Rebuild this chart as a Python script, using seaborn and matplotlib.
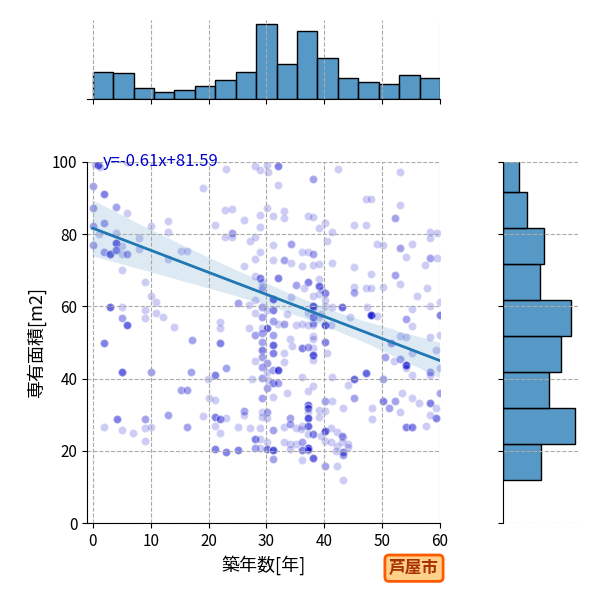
import numpy as np
import matplotlib
matplotlib.use("Agg")
import matplotlib.pyplot as plt
import seaborn as sns

# 築年数[年], 専有面積[m2], 重なっている件数 (グラフ範囲内の物件)
age = [
    0.9, 0.3, 1.3, 0, 2, 0, 2, 0, 1, 0, 2, 2.9, 2.9, 2, 2,
    4, 5.9, 4, 4, 4, 5.1, 5.1, 5.9, 5.1, 5.9, 5.1, 5.1, 5.9, 4.1, 5.1, 5.1, 6.9,
    8, 8, 9, 10, 9, 9, 10.1, 9, 9, 10, 10.1, 9,
    13, 13, 13, 10.9, 10.9, 12.1, 14, 13,
    15.2, 16.2, 15.2, 16.2, 17, 17.1, 16.2,
    19.1, 19.1, 19.9, 21.1, 20, 21.1, 21.1, 21.1, 21.1, 21.1,
    23.1, 22.9, 24.1, 24.1, 24.1, 22.9, 22, 22, 22, 23.1, 22, 23.1, 22, 23.1,
    26.1, 27.1, 28.1, 28.1, 26.1, 28.1, 28, 25.1, 27, 28, 28, 27, 28, 26.2, 26.2,
    25.1, 25.1, 27.1, 28.1, 28.1, 28.1, 27.5,
    28.9, 30.1, 30.2, 28.9, 28.9, 30.1, 31.2, 31.2, 28.9, 31.2,
    28.9, 29.2, 29.2, 29.2, 31.2,
    29.2, 31.2, 30.1, 29.2, 30.1, 29.2, 31.2, 29.2, 31.2,
    29.2, 31.2, 29.2, 31.2, 29.2, 30.1, 29.2, 31.2, 30.1,
    29.2, 31.2, 30.1, 29.2, 31.2, 30.2,
    29.2, 30.1, 30.1, 29.2, 28.9, 31.2, 28.9, 30.1,
    30.1, 31.2, 31.2, 28.9,
    32, 32, 33.1, 33.1, 34.2, 33.1, 34.2, 32, 34.2, 35.2, 32, 33.1, 35.2, 33.5, 34.1,
    32, 33.1, 33.1, 34.5, 32, 33.5, 33.1, 34.1, 34.1, 35.1, 33.1, 34.1, 35.1, 34,
    38.1, 37.2, 38.1, 36.2, 37.2, 38.1, 36.2, 38.1, 37.2, 36.5, 38.1, 38.1, 37.2, 38.1,
    38.1, 38.1, 37.2, 38.1, 36.2, 38.1, 36.2, 38.1, 38.1, 38.1, 38.1, 37.2, 36.2, 37.2,
    38.1, 37.2, 37.2, 37.2, 37.2, 37.2, 36.2, 38.1, 36.2, 37.2, 36, 37.2, 36.2, 38.1,
    36.2, 37.2,
    42.3, 39.1, 40.1, 41.3, 39.1, 41.3, 40.5, 39.1, 39.1, 39.1, 40.1, 40.1, 39.6, 40.1,
    41.3, 39.1, 40.1, 41.2, 39.5, 40.1, 40.5, 41.3, 40.1, 41.3, 39.1, 40.1, 39.1, 40.1,
    41.1, 42.2, 40.1, 41.1, 39.5, 42.2, 40.1, 42.2, 42.1,
    45.1, 45.1, 45.2, 45.2, 45.1, 43.1, 44.5, 44.1, 45.1, 45.1, 43.2, 43.2, 43.1, 43.1,
    44.1, 43.2, 43.2, 43.2, 44.1,
    47.2, 47.2, 48.1, 47.2, 48.1, 48.1, 49.1, 48.1, 47.4, 49.1, 47.2, 48.2, 48.2,
    50.2, 50.2, 52.2, 52.2, 50.2, 51.2, 52.2, 50.2, 51.5, 50.5, 52,
    53.1, 53.1, 53.1, 55.2, 54.1, 53.1, 54.1, 55.2, 53.1, 54.2, 55.2, 54.1, 54.1, 53.1,
    55.2, 53.5, 55.2, 56.3, 53.1, 54.1, 55.2, 55.2, 56,
    58.3, 58.3, 59.4, 57.4, 58.3, 59.4, 60, 60, 58.3, 58.3, 58.3, 58.3, 59.3, 58.3,
    59.3, 59.3, 58.3, 60, 60, 57.5, 60, 57.8,
]
area = [
    99.2, 99.5, 98.5, 93.4, 91, 87.2, 83, 82.4, 80, 77, 75.2, 74.5, 59.9, 49.8, 26.7,
    87.4, 86, 80.4, 77.7, 75.6, 76.8, 74.5, 74.5, 70.1, 100, 59.9, 56.7, 54.8, 28.8, 25.8, 41.7, 24.8,
    78.9, 75.8, 66.7, 63, 59, 56.7, 82.3, 28.8, 26.2, 26.7, 41.9, 22.7,
    83.6, 80.6, 73.1, 61.3, 58.1, 57, 54.2, 29.9,
    75.3, 75.3, 36.8, 36.8, 41.9, 50.7, 26.7,
    92.9, 29.7, 40, 41, 34.7, 34.1, 82.5, 29.4, 27, 20.5,
    98, 86.7, 86.9, 80.2, 79.3, 79.3, 55.8, 53.9, 49.9, 42.8, 28.8, 29, 24.8, 19.8,
    83.9, 78.2, 79.1, 73.1, 71.2, 68.5, 98.9, 60.9, 60.4, 61.8, 58.1, 53.9, 52.1, 31, 29.9,
    26.7, 20.2, 26.2, 23.3, 20.8, 45, 40,
    97.8, 99.2, 97.1, 85.3, 82.1, 87.2, 85, 77, 75.2, 72.9,
    68, 66.8, 65.5, 64.8, 62,
    59.9, 59, 59, 53.9, 53.9, 52.5, 52.1, 57, 56,
    50.2, 49.3, 47.9, 47, 46.1, 44.2, 43.3, 42.4, 41.9,
    40.1, 38.7, 37.3, 34.5, 35, 39.5,
    30.8, 30.7, 29, 29.5, 26.2, 25.8, 23.2, 22.5,
    20.5, 20.2, 17.7, 20.8,
    99, 93.6, 86.4, 84.4, 77.2, 72.9, 71.9, 67.8, 62.7, 65.9, 55, 55, 54.8, 58, 51,
    42.4, 47, 44.7, 49, 38.7, 36, 26.7, 29, 27.3, 26.2, 22.5, 21.8, 21.9, 20.5,
    95.2, 85, 84.9, 75.2, 75.2, 74.4, 71.2, 71.5, 66.7, 65, 63, 60.2, 58.3, 59.3,
    55.4, 57.2, 54.8, 54.8, 55, 51.8, 48.4, 51, 48.4, 46.5, 45.2, 48.8, 40.5, 36.7,
    38, 32.7, 31.8, 30.8, 29, 27, 27, 24.6, 22.5, 24.7, 26, 20.9, 20.2, 17.9,
    17.5, 20.2,
    98, 81.8, 83, 80.5, 71.7, 72, 78, 67.6, 65.6, 63.3, 63.6, 61.8, 64.5, 60.2,
    59.9, 57.2, 54.8, 54.8, 58, 50.2, 47, 40.5, 33.8, 33.8, 31.3, 31, 29.4, 25.5,
    26.2, 25.2, 22.8, 22.5, 24, 21.2, 15.9, 15.9, 20,
    82.5, 71, 65.5, 63.6, 64.1, 59.9, 57, 38.2, 39.8, 34.5, 31.8, 23.7, 24.1, 22.5,
    21.9, 19.6, 18.7, 12, 21,
    82.5, 89.7, 89.7, 65, 65, 68.9, 77.3, 57.5, 59.7, 57.4, 41.6, 31.8, 28.8,
    77, 65.5, 68.7, 84.4, 33.8, 31.8, 33.8, 39.8, 50, 46, 45,
    88.1, 97.1, 76.1, 77.2, 73.8, 66.2, 56.4, 59.2, 51.8, 51.6, 54.6, 43.8, 42.9, 45.5,
    41, 35.9, 34.5, 33.2, 30.8, 26.7, 26.7, 47, 63,
    80.7, 78.9, 80.4, 71.5, 73.4, 73.4, 61.3, 57.6, 60.2, 51.5, 41.9, 41, 47.9, 33.2,
    31.8, 29, 29.9, 36, 43, 27, 52, 65,
]
n = [
    5, 1, 1, 2, 3, 2, 2, 2, 1, 2, 2, 4, 4, 3, 1,
    2, 1, 1, 4, 3, 1, 1, 2, 1, 1, 1, 2, 4, 3, 1, 4, 1,
    1, 1, 1, 1, 1, 1, 1, 2, 1, 1, 2, 1,
    1, 1, 1, 1, 1, 1, 1, 2,
    1, 1, 2, 2, 2, 2, 2,
    1, 1, 1, 3, 1, 1, 1, 3, 1, 3,
    1, 1, 1, 2, 1, 1, 1, 1, 3, 2, 3, 1, 1, 3,
    1, 1, 1, 1, 1, 1, 1, 2, 1, 1, 1, 1, 2, 2, 1,
    1, 3, 1, 3, 2, 1, 1,
    1, 1, 1, 1, 1, 1, 1, 1, 1, 1,
    3, 1, 1, 1, 4,
    2, 3, 1, 1, 4, 2, 2, 2, 2,
    2, 4, 3, 3, 2, 2, 2, 2, 1,
    2, 3, 2, 2, 1, 1,
    1, 2, 1, 1, 1, 2, 1, 1,
    4, 5, 2, 1,
    3, 1, 1, 1, 2, 2, 1, 3, 1, 2, 1, 2, 1, 1, 1,
    5, 1, 1, 1, 2, 1, 1, 2, 2, 1, 1, 1, 1, 1,
    2, 1, 1, 1, 1, 2, 1, 1, 3, 1, 1, 5, 1, 1,
    2, 3, 1, 1, 1, 1, 3, 1, 1, 5, 1, 2, 1, 1,
    1, 4, 3, 1, 5, 4, 1, 3, 2, 1, 1, 7, 3, 4,
    1, 2,
    1, 1, 1, 1, 1, 1, 1, 1, 4, 1, 3, 1, 1, 1,
    1, 1, 5, 1, 1, 3, 1, 1, 2, 1, 1, 1, 1, 5,
    1, 1, 1, 1, 1, 1, 2, 1, 1,
    1, 1, 1, 1, 1, 4, 1, 1, 4, 2, 1, 1, 2, 1,
    1, 3, 2, 1, 1,
    1, 1, 1, 1, 1, 1, 1, 8, 1, 1, 4, 1, 1,
    1, 1, 2, 2, 3, 2, 2, 2, 2, 2, 1,
    1, 1, 2, 1, 1, 1, 2, 1, 1, 1, 1, 6, 1, 2,
    1, 1, 1, 1, 1, 3, 3, 1, 1,
    1, 1, 1, 1, 2, 1, 1, 3, 1, 1, 2, 1, 1, 3,
    1, 3, 1, 2, 1, 1, 1, 1,
]

# 100m2を超える物件 (表示範囲の外だが回帰とヒストグラムには入る)
big_age = [
    0.5, 1.5, 2.5, 3, 1,
    4, 5, 5.5, 6, 6.5,
    8, 9.5, 12, 16, 18.5, 20, 21,
    22, 22.5, 23, 23.5, 24, 24.5,
    25, 25.5, 26, 26.5, 27, 27.5, 28, 25.8, 26.8, 27.8,
    28.5, 29, 29.5, 30, 30.5, 31, 31.5, 29.2, 30.8,
    32, 32.5, 33, 33.5, 34, 34.5, 35, 35.2,
    35.5, 36, 36.5, 37, 37.2, 37.5, 38, 38.5, 36.2, 37.2, 38.1, 36.8,
    39, 39.5, 40, 40.5, 41, 41.5, 42,
    44, 46, 47.5, 49, 50, 52, 55,
]
big_area = [
    181, 196, 171, 216, 164,
    176, 201, 166, 186, 221,
    174, 196, 181, 186, 171, 196, 181,
    117, 142, 127, 157, 107, 132,
    112, 137, 122, 162, 105, 147, 127, 117, 177, 132,
    112, 142, 122, 162, 127, 107, 147, 187, 117,
    117, 147, 127, 107, 162, 137, 122, 102,
    112, 142, 122, 167, 107, 132, 152, 117, 102, 137, 127, 182,
    117, 142, 107, 127, 157, 112, 132,
    117, 112, 137, 107, 122, 105, 112,
]
big_n = [
    1, 1, 1, 1, 1,
    1, 1, 1, 1, 1,
    1, 1, 1, 1, 1, 1, 1,
    1, 1, 1, 1, 1, 1,
    1, 1, 1, 1, 1, 1, 1, 1, 1, 1,
    2, 2, 2, 2, 2, 2, 2, 2, 2,
    1, 1, 1, 1, 1, 1, 1, 1,
    1, 1, 1, 1, 1, 1, 1, 1, 1, 1, 1, 1,
    1, 1, 1, 1, 1, 1, 1,
    1, 1, 1, 1, 1, 1, 1,
]

eq_text = "y=-0.61x+81.59"
city = "芦屋市"

x = np.concatenate([np.repeat(age, n), np.repeat(big_age, big_n)]).astype(float)
y = np.concatenate([np.repeat(area, n), np.repeat(big_area, big_n)]).astype(float)

plt.rcParams["axes.grid"] = True
plt.rcParams["grid.linestyle"] = "--"
plt.rcParams["grid.color"] = "#aaaaaa"
plt.rcParams["xtick.labelsize"] = 11
plt.rcParams["ytick.labelsize"] = 11
plt.rcParams["font.family"] = ["Noto Sans CJK JP", "DejaVu Sans"]

g = sns.JointGrid(x=x, y=y, height=6)
fig = g.figure
fig.set_dpi(100)

g.ax_joint.set_position([87 / 600, 77 / 600, 353 / 600, 361 / 600])
g.ax_marg_x.set_position([87 / 600, 500.7 / 600, 353 / 600, 79.3 / 600])
g.ax_marg_y.set_position([503.3 / 600, 77 / 600, 75 / 600, 361 / 600])

sns.regplot(x=x, y=y, ax=g.ax_joint, color="C0",
            scatter_kws=dict(color="mediumblue", alpha=0.2, s=34,
                             edgecolor="white", linewidths=1),
            line_kws=dict(color="C0", lw=2))

sns.histplot(x=x, binwidth=60 / 17, ax=g.ax_marg_x, edgecolor="black", linewidth=1)
sns.histplot(y=y, binwidth=9.78, ax=g.ax_marg_y, edgecolor="black", linewidth=1)
g.ax_marg_x.set_ylabel("")
g.ax_marg_y.set_xlabel("")
g.ax_marg_x.yaxis.grid(False)
g.ax_marg_y.xaxis.grid(False)

g.ax_joint.set_xlim(-1, 60)
g.ax_joint.set_ylim(0, 100)
g.ax_joint.set_xlabel("築年数[年]", fontsize=13)
g.ax_joint.set_ylabel("専有面積[m2]", fontsize=13)
g.ax_joint.text(1.7, 99, eq_text, color="mediumblue", fontsize=12, va="baseline")

fig.text(0.69, 0.053, city, ha="center", va="center", fontsize=12,
         fontweight="bold", color="#a83200",
         bbox=dict(boxstyle="round,pad=0.25", fc="#ffd08a", ec="#ff5a00", lw=2))

fig.savefig("out.png", dpi=100)
